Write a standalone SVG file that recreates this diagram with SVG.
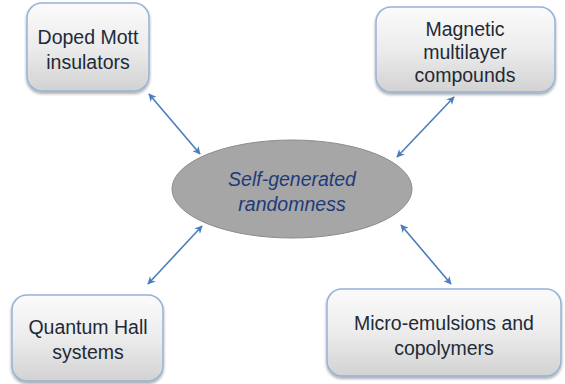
<svg xmlns="http://www.w3.org/2000/svg" width="565" height="384" viewBox="0 0 565 384">
<defs>
<linearGradient id="g" x1="0" y1="0" x2="0" y2="1">
<stop offset="0" stop-color="#fbfbfb"/>
<stop offset="0.5" stop-color="#ececec"/>
<stop offset="1" stop-color="#d2d2d2"/>
</linearGradient>
<filter id="sh" x="-10%" y="-10%" width="120%" height="130%">
<feGaussianBlur in="SourceAlpha" stdDeviation="1.5"/>
<feOffset dx="0" dy="2" result="b"/>
<feComponentTransfer><feFuncA type="linear" slope="0.35"/></feComponentTransfer>
<feMerge><feMergeNode/><feMergeNode in="SourceGraphic"/></feMerge>
</filter>
<marker id="ah" viewBox="0 0 10 10" refX="9" refY="5" markerWidth="8" markerHeight="8" orient="auto-start-reverse" markerUnits="userSpaceOnUse">
<path d="M0,0 L10,5 L0,10 L3,5 z" fill="#4a7ebb"/>
</marker>
</defs>
<style>
.box{fill:url(#g);stroke:#95b3d7;stroke-width:1.5;filter:url(#sh)}
.t{font-family:"Liberation Sans",Arial,sans-serif;font-size:19.5px;fill:#222a36;text-anchor:middle}
.e{font-family:"Liberation Sans",Arial,sans-serif;font-size:19.5px;font-style:italic;fill:#1f3a7a;text-anchor:middle}
.c{stroke:#4a7ebb;stroke-width:1.6;fill:none;marker-start:url(#ah);marker-end:url(#ah)}
</style>
<rect width="565" height="384" fill="#ffffff"/>
<g id="connectors">
<line class="c" x1="149" y1="94" x2="200" y2="154"/>
<line class="c" x1="454" y1="97" x2="397" y2="157"/>
<line class="c" x1="148" y1="284" x2="202" y2="226"/>
<line class="c" x1="401" y1="225" x2="451" y2="284"/>
</g>
<g id="center">
<ellipse cx="292" cy="189" rx="120" ry="49" fill="#a6a6a6" stroke="#8c8c8c" stroke-width="1"/>
<text class="e" x="292" y="186">Self-generated</text>
<text class="e" x="292" y="211">randomness</text>
</g>
<g id="doped">
<rect class="box" x="27" y="3" width="122" height="88" rx="15"/>
<text class="t" x="88" y="44">Doped Mott</text>
<text class="t" x="88" y="69">insulators</text>
</g>
<g id="magnetic">
<rect class="box" x="376" y="7" width="179" height="85" rx="15"/>
<text class="t" x="465" y="36">Magnetic</text>
<text class="t" x="465" y="59">multilayer</text>
<text class="t" x="465" y="82">compounds</text>
</g>
<g id="quantum">
<rect class="box" x="12" y="295" width="151" height="86" rx="15"/>
<text class="t" x="88" y="334">Quantum Hall</text>
<text class="t" x="88" y="359">systems</text>
</g>
<g id="micro">
<rect class="box" x="327" y="289" width="234" height="87" rx="15"/>
<text class="t" x="444" y="330">Micro-emulsions and</text>
<text class="t" x="444" y="355">copolymers</text>
</g>
</svg>
